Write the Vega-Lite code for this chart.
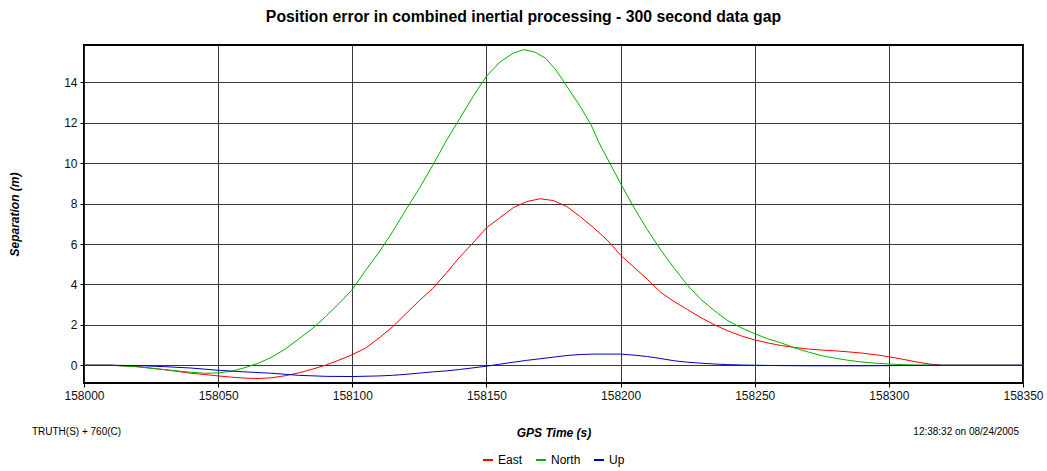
{
  "$schema": "https://vega.github.io/schema/vega-lite/v6.json",
  "width": 939,
  "height": 338,
  "autosize": {"type": "none"},
  "padding": {"left": 84, "top": 45, "right": 24, "bottom": 88},
  "background": "white",
  "title": {"text": "Position error in combined inertial processing - 300 second data gap", "font": "Liberation Sans", "fontSize": 15.8, "fontWeight": "bold", "color": "black", "offset": 19, "dx": -30},
  "config": {
    "view": {"stroke": "black", "strokeWidth": 2},
    "axis": {"grid": true, "gridColor": "#222222", "gridOpacity": 0.9, "domain": false, "tickColor": "black", "tickSize": 4, "labelFont": "Liberation Sans", "labelFontSize": 12, "labelColor": "#111111", "labelPadding": 3, "labelFlush": false, "titleFont": "Liberation Sans", "titleFontStyle": "italic", "titleFontWeight": "bold", "titleFontSize": 12, "titleColor": "black"}
  },
  "datasets": {
    "series": [
      {"t":158000,"s":"East","v":0},{"t":158010,"s":"East","v":0},{"t":158020,"s":"East","v":-0.07},{"t":158030,"s":"East","v":-0.22},{"t":158040,"s":"East","v":-0.4},{"t":158045,"s":"East","v":-0.46},{"t":158050,"s":"East","v":-0.53},{"t":158055,"s":"East","v":-0.59},{"t":158060,"s":"East","v":-0.64},{"t":158065,"s":"East","v":-0.66},{"t":158070,"s":"East","v":-0.62},{"t":158075,"s":"East","v":-0.52},{"t":158080,"s":"East","v":-0.38},{"t":158085,"s":"East","v":-0.2},{"t":158090,"s":"East","v":0.0},{"t":158095,"s":"East","v":0.25},{"t":158100,"s":"East","v":0.52},{"t":158105,"s":"East","v":0.85},{"t":158110,"s":"East","v":1.35},{"t":158115,"s":"East","v":1.9},{"t":158120,"s":"East","v":2.55},{"t":158125,"s":"East","v":3.2},{"t":158130,"s":"East","v":3.8},{"t":158135,"s":"East","v":4.55},{"t":158140,"s":"East","v":5.35},{"t":158145,"s":"East","v":6.05},{"t":158150,"s":"East","v":6.8},{"t":158155,"s":"East","v":7.3},{"t":158160,"s":"East","v":7.8},{"t":158165,"s":"East","v":8.1},{"t":158170,"s":"East","v":8.24},{"t":158175,"s":"East","v":8.15},{"t":158180,"s":"East","v":7.85},{"t":158185,"s":"East","v":7.35},{"t":158190,"s":"East","v":6.8},{"t":158195,"s":"East","v":6.2},{"t":158200,"s":"East","v":5.45},{"t":158205,"s":"East","v":4.85},{"t":158210,"s":"East","v":4.25},{"t":158215,"s":"East","v":3.6},{"t":158220,"s":"East","v":3.15},{"t":158225,"s":"East","v":2.75},{"t":158230,"s":"East","v":2.35},{"t":158235,"s":"East","v":2.0},{"t":158240,"s":"East","v":1.7},{"t":158245,"s":"East","v":1.45},{"t":158250,"s":"East","v":1.25},{"t":158255,"s":"East","v":1.1},{"t":158260,"s":"East","v":0.97},{"t":158265,"s":"East","v":0.88},{"t":158270,"s":"East","v":0.8},{"t":158275,"s":"East","v":0.75},{"t":158280,"s":"East","v":0.71},{"t":158285,"s":"East","v":0.66},{"t":158290,"s":"East","v":0.6},{"t":158295,"s":"East","v":0.52},{"t":158300,"s":"East","v":0.42},{"t":158305,"s":"East","v":0.3},{"t":158310,"s":"East","v":0.17},{"t":158315,"s":"East","v":0.06},{"t":158320,"s":"East","v":0},{"t":158330,"s":"East","v":0},{"t":158340,"s":"East","v":0},{"t":158350,"s":"East","v":0},
      {"t":158000,"s":"North","v":0},{"t":158010,"s":"North","v":0},{"t":158020,"s":"North","v":-0.08},{"t":158030,"s":"North","v":-0.22},{"t":158040,"s":"North","v":-0.35},{"t":158045,"s":"North","v":-0.4},{"t":158050,"s":"North","v":-0.38},{"t":158055,"s":"North","v":-0.3},{"t":158060,"s":"North","v":-0.12},{"t":158065,"s":"North","v":0.1},{"t":158070,"s":"North","v":0.4},{"t":158075,"s":"North","v":0.8},{"t":158080,"s":"North","v":1.3},{"t":158085,"s":"North","v":1.8},{"t":158090,"s":"North","v":2.4},{"t":158095,"s":"North","v":3.05},{"t":158100,"s":"North","v":3.74},{"t":158105,"s":"North","v":4.7},{"t":158110,"s":"North","v":5.6},{"t":158115,"s":"North","v":6.6},{"t":158120,"s":"North","v":7.7},{"t":158125,"s":"North","v":8.75},{"t":158130,"s":"North","v":9.9},{"t":158135,"s":"North","v":11.1},{"t":158140,"s":"North","v":12.2},{"t":158145,"s":"North","v":13.3},{"t":158150,"s":"North","v":14.3},{"t":158155,"s":"North","v":15.0},{"t":158160,"s":"North","v":15.45},{"t":158164,"s":"North","v":15.62},{"t":158168,"s":"North","v":15.5},{"t":158172,"s":"North","v":15.2},{"t":158176,"s":"North","v":14.6},{"t":158180,"s":"North","v":13.8},{"t":158185,"s":"North","v":12.8},{"t":158189,"s":"North","v":11.9},{"t":158192,"s":"North","v":11.0},{"t":158196,"s":"North","v":10.0},{"t":158200,"s":"North","v":9.0},{"t":158205,"s":"North","v":7.8},{"t":158210,"s":"North","v":6.7},{"t":158215,"s":"North","v":5.7},{"t":158220,"s":"North","v":4.8},{"t":158225,"s":"North","v":3.95},{"t":158230,"s":"North","v":3.25},{"t":158235,"s":"North","v":2.7},{"t":158240,"s":"North","v":2.2},{"t":158245,"s":"North","v":1.85},{"t":158250,"s":"North","v":1.56},{"t":158255,"s":"North","v":1.3},{"t":158260,"s":"North","v":1.1},{"t":158265,"s":"North","v":0.85},{"t":158270,"s":"North","v":0.65},{"t":158275,"s":"North","v":0.47},{"t":158280,"s":"North","v":0.35},{"t":158285,"s":"North","v":0.24},{"t":158290,"s":"North","v":0.16},{"t":158295,"s":"North","v":0.1},{"t":158300,"s":"North","v":0.06},{"t":158305,"s":"North","v":0.03},{"t":158310,"s":"North","v":0.01},{"t":158320,"s":"North","v":0},{"t":158330,"s":"North","v":0},{"t":158340,"s":"North","v":0},{"t":158350,"s":"North","v":0},
      {"t":158000,"s":"Up","v":0},{"t":158010,"s":"Up","v":0},{"t":158020,"s":"Up","v":-0.02},{"t":158030,"s":"Up","v":-0.07},{"t":158040,"s":"Up","v":-0.14},{"t":158050,"s":"Up","v":-0.25},{"t":158060,"s":"Up","v":-0.33},{"t":158070,"s":"Up","v":-0.4},{"t":158080,"s":"Up","v":-0.5},{"t":158090,"s":"Up","v":-0.55},{"t":158100,"s":"Up","v":-0.56},{"t":158110,"s":"Up","v":-0.53},{"t":158115,"s":"Up","v":-0.5},{"t":158120,"s":"Up","v":-0.45},{"t":158125,"s":"Up","v":-0.39},{"t":158130,"s":"Up","v":-0.33},{"t":158135,"s":"Up","v":-0.28},{"t":158140,"s":"Up","v":-0.21},{"t":158145,"s":"Up","v":-0.13},{"t":158150,"s":"Up","v":-0.05},{"t":158155,"s":"Up","v":0.05},{"t":158160,"s":"Up","v":0.15},{"t":158165,"s":"Up","v":0.24},{"t":158170,"s":"Up","v":0.32},{"t":158175,"s":"Up","v":0.4},{"t":158180,"s":"Up","v":0.48},{"t":158185,"s":"Up","v":0.53},{"t":158190,"s":"Up","v":0.55},{"t":158195,"s":"Up","v":0.55},{"t":158200,"s":"Up","v":0.55},{"t":158205,"s":"Up","v":0.5},{"t":158210,"s":"Up","v":0.43},{"t":158215,"s":"Up","v":0.33},{"t":158220,"s":"Up","v":0.22},{"t":158225,"s":"Up","v":0.15},{"t":158230,"s":"Up","v":0.1},{"t":158235,"s":"Up","v":0.06},{"t":158240,"s":"Up","v":0.03},{"t":158245,"s":"Up","v":0.01},{"t":158250,"s":"Up","v":0},{"t":158260,"s":"Up","v":-0.02},{"t":158270,"s":"Up","v":-0.03},{"t":158280,"s":"Up","v":-0.03},{"t":158290,"s":"Up","v":-0.03},{"t":158300,"s":"Up","v":-0.02},{"t":158310,"s":"Up","v":-0.01},{"t":158320,"s":"Up","v":0},{"t":158330,"s":"Up","v":0},{"t":158340,"s":"Up","v":0},{"t":158350,"s":"Up","v":0}
    ]
  },
  "layer": [
    {
      "data": {"name": "series"},
      "mark": {"type": "line", "strokeWidth": 1, "clip": true},
      "encoding": {
        "x": {"field": "t", "type": "quantitative", "scale": {"domain": [158000, 158350], "nice": false, "zero": false}, "axis": {"values": [158000, 158050, 158100, 158150, 158200, 158250, 158300, 158350], "format": "d", "title": "GPS Time (s)", "titlePadding": 26}},
        "y": {"field": "v", "type": "quantitative", "scale": {"domain": [-0.88, 15.85], "nice": false, "zero": false}, "axis": {"values": [0, 2, 4, 6, 8, 10, 12, 14], "title": "Separation (m)", "titlePadding": 42}},
        "color": {"field": "s", "type": "nominal", "scale": {"domain": ["East", "North", "Up"], "range": ["#ff0000", "#00b400", "#0000c8"]}, "legend": {"orient": "none", "legendX": 398, "legendY": 409, "direction": "horizontal", "title": null, "symbolType": "stroke", "symbolStrokeWidth": 2, "symbolSize": 100, "labelFont": "Liberation Sans", "labelFontSize": 12, "labelColor": "black", "labelOffset": 4, "columnPadding": 9}}
      }
    },
    {
      "data": {"values": [{"note": "TRUTH(S) + 760(C)"}]},
      "mark": {"type": "text", "align": "left", "baseline": "middle", "font": "Liberation Sans", "fontSize": 10, "color": "black"},
      "encoding": {"text": {"field": "note"}, "x": {"datum": 157980.6, "type": "quantitative"}, "y": {"datum": -3.3, "type": "quantitative"}}
    },
    {
      "data": {"values": [{"note": "12:38:32 on 08/24/2005"}]},
      "mark": {"type": "text", "align": "right", "baseline": "middle", "font": "Liberation Sans", "fontSize": 10, "color": "black"},
      "encoding": {"text": {"field": "note"}, "x": {"datum": 158348.5, "type": "quantitative"}, "y": {"datum": -3.3, "type": "quantitative"}}
    }
  ]
}
